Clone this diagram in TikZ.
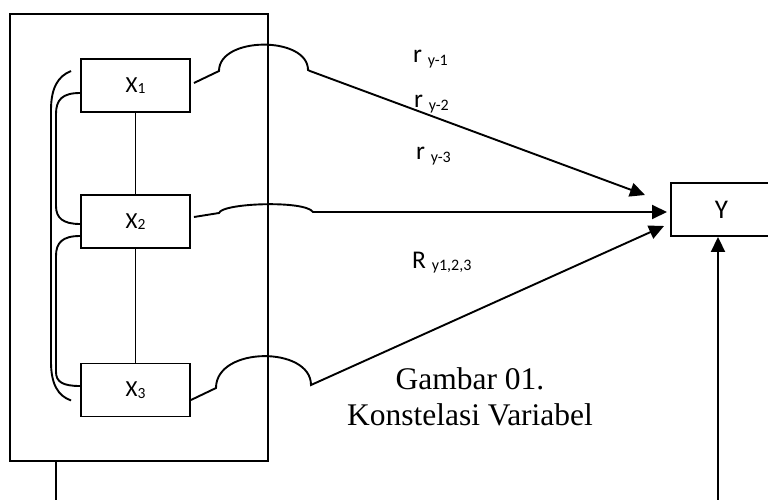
\documentclass[tikz,border=0pt]{standalone}
\usepackage{fontspec}
\setmainfont{Liberation Serif}
\newfontfamily\lblfont{Carlito}
\usetikzlibrary{arrows.meta,calc}

% lowered index after a variable name
\newcommand\xsub[1]{{\fontsize{15.5}{15.5}\selectfont\raisebox{-1.5pt}{#1}}}
\newcommand\rsub[1]{{\fontsize{16}{16}\selectfont\raisebox{-2.5pt}{#1}}}

\tikzset{
  link/.style={line width=1.9pt},
  arr/.style={link, -{Triangle[length=15pt,width=14pt]}},
  varbox/.style={draw, line width=1.9pt, minimum width=109pt, minimum height=53pt,
    inner sep=0pt, font=\lblfont\fontsize{23}{23}\selectfont},
  coef/.style={anchor=base west, inner sep=0pt, font=\lblfont\fontsize{25.5}{25.5}\selectfont},
  caption/.style={anchor=base, inner sep=0pt, font=\fontsize{31.5}{36}\selectfont},
}

\begin{document}
\begin{tikzpicture}[x=1pt, y=-1pt]
\fill[white] (0,0) rectangle (768,500);
\useasboundingbox (0,0) rectangle (768,500);

% frame around the independent variables
\node[draw, line width=1.9pt, minimum width=258pt, minimum height=447pt, inner sep=0pt]
  (frame) at (139,237.5) {};

% variables
\node[varbox] (X1) at (135.5,85.5) {X\xsub{1}};
\node[varbox] (X2) at (135.5,221.5) {X\xsub{2}};
\node[varbox] (X3) at (135.5,390) {X\xsub{3}};
\node[varbox, minimum width=101pt, font=\lblfont\fontsize{27}{27}\selectfont]
  (Y) at (721.5,209.5) {Y};

% links between the X variables
\draw[link, line width=1.5pt] (X1) -- (X2);
\draw[link, line width=1.5pt] (X2) -- (X3);

% left brackets
\draw[link] ($(X1.north west)+(-9,13)$) .. controls (58,76) and (51,88) .. (51,110)
  -- (51,362) .. controls (51,384) and (58,396) .. ($(X3.south west)+(-9,-17)$);
\draw[link] ($(X1.west)+(0,7.5)$) .. controls (62,93) and (56,100) .. (56,114)
  -- (56,206) .. controls (56,218) and (63,224) .. ($(X2.west)+(0,2.5)$);
\draw[link] ($(X2.west)+(0,14.5)$) .. controls (62,236) and (56,243) .. (56,256)
  -- (56,372) .. controls (56,382) and (63,386) .. ($(X3.west)+(0,-4)$);

% arrow ends in front of Y
\coordinate (t1) at (645,195);
\coordinate (t2) at (667,212);
\coordinate (t3) at (664,226);

% arrows from X to Y, each hopping over the frame
\draw[arr] ($(X1.east)+(3,-2.5)$) -- (219,71) .. controls (219,36) and (308,36) .. (308,70)
  -- (310,71) -- (t1);
\draw[arr] ($(X2.east)+(3,-4.5)$) -- (219,213) .. controls (222,203) and (305,200) .. (313,212)
  -- (t2);
\draw[arr] ($(X3.east)+(0,10)$) -- (216,388) .. controls (216,346) and (311,346) .. (311,385)
  -- (t3);

% lines leaving the bottom edge
\coordinate (low1) at (56,506);
\coordinate (low2) at (718,506);
\draw[link] (low1 |- frame.south) -- (low1);
\draw[arr] (low2) -- (low2 |- Y.south);

% coefficients
\node[coef] (r1) at (413,63) {r \rsub{y-1}};
\node[coef] (r2) at (414,108) {r \rsub{y-2}};
\node[coef] (r3) at (416,160) {r \rsub{y-3}};
\node[coef] (R) at (412,268) {R \rsub{y1,2,3}};

% caption
\node[caption] (cap1) at (470,389) {Gambar 01.};
\node[caption] (cap2) at (470,425) {Konstelasi Variabel};
\end{tikzpicture}
\end{document}
